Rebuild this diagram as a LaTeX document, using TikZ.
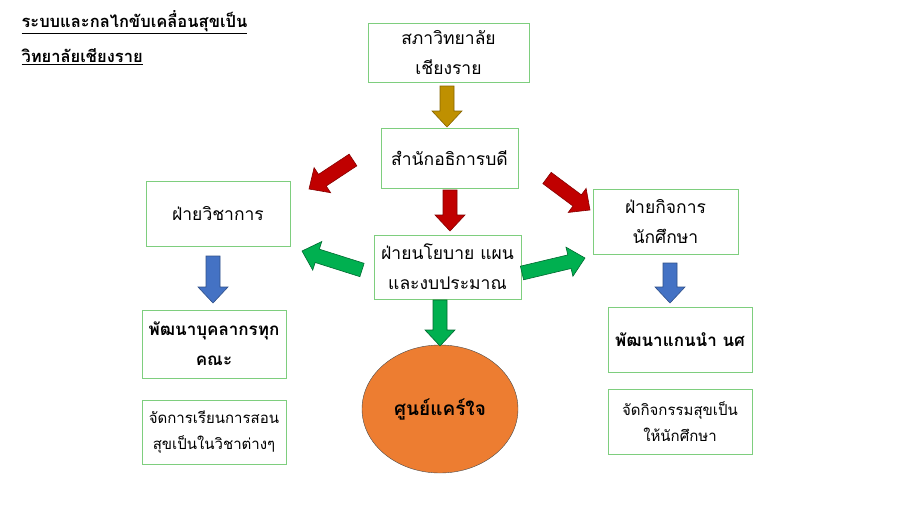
\documentclass[tikz,border=0pt]{standalone}
\usepackage{fontspec}
\usetikzlibrary{shapes.geometric}
\setmainfont[Script=Thai]{Loma}
\begin{document}
\begin{tikzpicture}[x=1pt,y=-1pt,
  box/.style={draw=green!45!gray!70, line width=0.8pt, fill=white, align=center, font=\fontsize{17.5}{30}\selectfont, inner sep=0},
  ]
\newcommand\barrow[6]{\pgfmathsetmacro\ang{atan2(-(#5-#3),#4-#2)}\pgfmathsetmacro\len{veclen(#4-#2,#5-#3)}%
 \filldraw[fill=#1,draw=#6,line width=0.6pt,shift={(#2,#3)},rotate=\ang] (0,-7)--(\len-16,-7)--(\len-16,-15)--(\len,0)--(\len-16,15)--(\len-16,7)--(0,7)--cycle;}
\definecolor{gold}{HTML}{BF9000}
\definecolor{dred}{HTML}{C00000}
\definecolor{gr}{HTML}{00B050}
\definecolor{bl}{HTML}{4472C4}
\definecolor{orr}{HTML}{ED7D31}
\useasboundingbox (0,0) rectangle (900,506);
\node[anchor=west,font=\fontsize{16.5}{20}\selectfont\bfseries] (t1) at (18,22) {\underline{ระบบและกลไกขับเคลื่อนสุขเป็น}};
\node[anchor=west,font=\fontsize{16.5}{20}\selectfont\bfseries] (t2) at (18,57) {\underline{วิทยาลัยเชียงราย}};
\node[box,minimum width=161,minimum height=59] (a) at (448.5,52.5) {สภาวิทยาลัย\\เชียงราย};
\node[box,minimum width=137,minimum height=60] (b) at (449.5,158) {สำนักอธิการบดี};
\node[box,minimum width=147,minimum height=64] (c) at (447.5,267) {ฝ่ายนโยบาย แผน\\และงบประมาณ};
\node[box,minimum width=144,minimum height=65] (l) at (218,213.5) {ฝ่ายวิชาการ};
\node[box,minimum width=145,minimum height=65] (r) at (665.5,221.5) {ฝ่ายกิจการ\\นักศึกษา};
\node[box,minimum width=144,minimum height=68,font=\fontsize{17}{30}\selectfont\bfseries] (l2) at (214,344) {พัฒนาบุคลากรทุก\\คณะ};
\node[box,minimum width=144,minimum height=65,font=\fontsize{17}{30}\selectfont\bfseries] (r2) at (680,339.5) {พัฒนาแกนนำ นศ};
\node[box,minimum width=144,minimum height=64,font=\fontsize{15}{26}\selectfont] (l3) at (214,432) {จัดการเรียนการสอน\\สุขเป็นในวิชาต่างๆ};
\node[box,minimum width=144,minimum height=65,font=\fontsize{15}{26}\selectfont] (r3) at (680,421.5) {จัดกิจกรรมสุขเป็น\\ให้นักศึกษา};
\node[ellipse,draw=black!70,fill=orr,minimum width=156,minimum height=128,font=\fontsize{19}{24}\selectfont\bfseries,inner sep=0] (o) at (440,409) {ศูนย์แคร์ใจ};
\barrow{gold}{447}{86}{447}{127}{gold!70!black}
\barrow{dred}{450}{190}{450}{231}{dred!70!black}
\barrow{dred}{353}{160}{309}{189}{dred!70!black}
\barrow{dred}{547}{178}{590}{210}{dred!70!black}
\barrow{gr}{362}{270}{302}{251}{gr!60!black}
\barrow{gr}{522}{273}{585}{258}{gr!60!black}
\barrow{gr}{440}{300}{440}{346}{gr!60!black}
\barrow{bl}{213}{256}{213}{303}{bl!70!black}
\barrow{bl}{670}{263}{670}{303}{bl!70!black}
\end{tikzpicture}
\end{document}
